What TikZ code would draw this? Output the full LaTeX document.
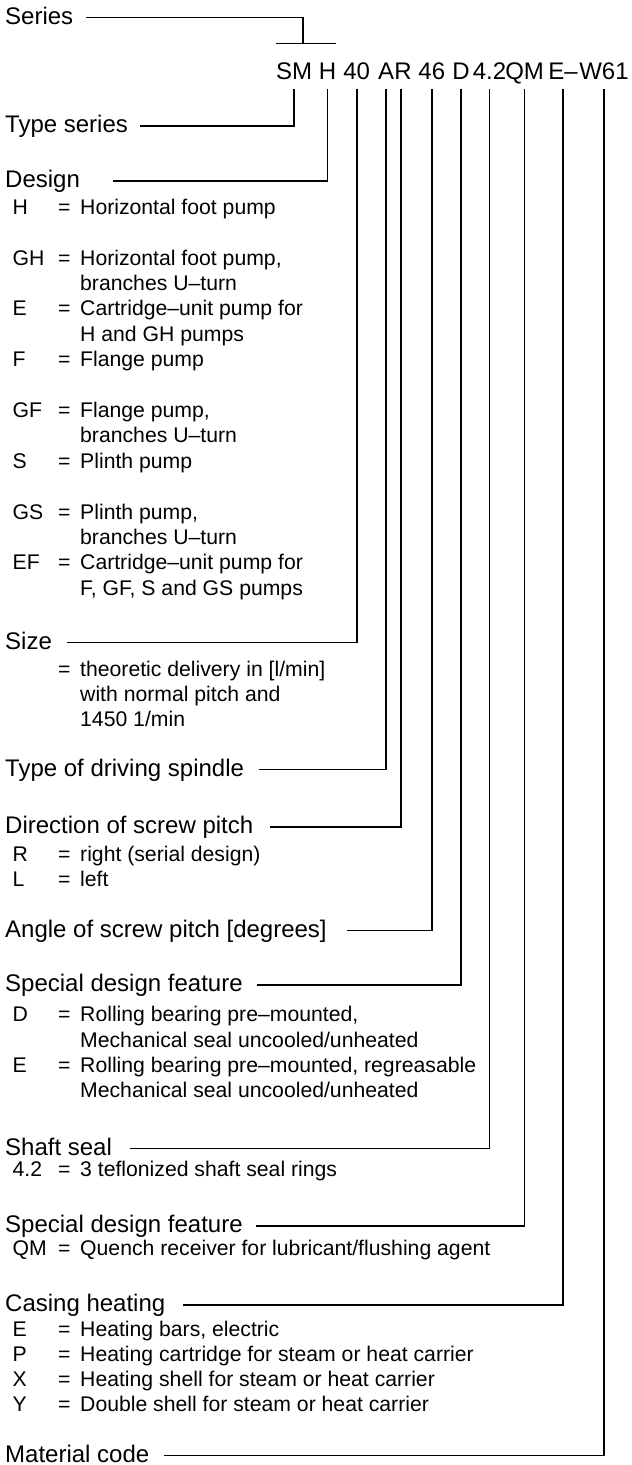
\documentclass[tikz,border=0pt]{standalone}
\usepackage{fontspec}
\setmainfont{Liberation Sans}
\begin{document}
\begin{tikzpicture}[x=1pt,y=-1pt,
  lbl/.style={anchor=base west,inner sep=0pt,text height=17pt,text depth=3.6pt,font=\fontsize{24}{28}\selectfont},
  code/.style={anchor=base,inner xsep=0pt,inner ysep=9.3pt,text height=17pt,text depth=0pt,font=\fontsize{24}{28}\selectfont},
  key/.style={anchor=base west,inner sep=0pt,font=\fontsize{21.2}{25.4}\selectfont},
  desc/.style={key},
  lead/.style={line width=1.6pt}]
\useasboundingbox (0,0) rectangle (632,1465);

% Text Node
\draw (294,79) node (cSM) [code] {SM};
\draw (327.5,79) node (cH) [code] {H};
\draw (356.7,79) node (c40) [code] {40};
\draw (386,79) node (cA) [code] {A};
\draw (403,79) node (cR) [code] {R};
\draw (431.8,79) node (c46) [code] {46};
\draw (461,79) node (cD) [code] {D};
\draw (489.5,79) node (c42) [code] {4.2};
\draw (524.6,79) node (cQM) [code] {QM};
\draw (563,79) node (cE) [code] {E–};
\draw (604,79) node (cW) [code] {W61};

% Text Node
\draw (5,24) node (series) [lbl] {Series};
\draw (5,132.4) node (typeser) [lbl] {Type series};
\draw (5,187.7) node (design) [lbl] {Design};
\draw (5,649) node (size) [lbl] {Size};
\draw (5,776) node (spindle) [lbl] {Type of driving spindle};
\draw (5,833.7) node (direction) [lbl] {Direction of screw pitch};
\draw (5,937) node (angle) [lbl] {Angle of screw pitch [degrees]};
\draw (5,991.5) node (special) [lbl] {Special design feature};
\draw (5,1155.2) node (shaft) [lbl] {Shaft seal};
\draw (5,1232.4) node (quench) [lbl] {Special design feature};
\draw (5,1311.7) node (casing) [lbl] {Casing heating};
\draw (5,1462) node (material) [lbl] {Material code};

% Text Node
\draw (12.5,214.3) node (kH) [key] {H} (58,214.3) node (eH) [key] {=} (80,214.3) node (tH) [desc] {Horizontal foot pump};
\draw (12.5,265.1) node (kGH) [key] {GH} (58,265.1) node (eGH) [key] {=} (80,265.1) node (tGH) [desc] {\vtop{\hbox{Horizontal foot pump,}\hbox{branches U–turn}}};
\draw (12.5,315.9) node (kE) [key] {E} (58,315.9) node (eE) [key] {=} (80,315.9) node (tE) [desc] {\vtop{\hbox{Cartridge–unit pump for}\hbox{H and GH pumps}}};
\draw (12.5,366.7) node (kF) [key] {F} (58,366.7) node (eF) [key] {=} (80,366.7) node (tF) [desc] {Flange pump};
\draw (12.5,417.5) node (kGF) [key] {GF} (58,417.5) node (eGF) [key] {=} (80,417.5) node (tGF) [desc] {\vtop{\hbox{Flange pump,}\hbox{branches U–turn}}};
\draw (12.5,468.3) node (kS) [key] {S} (58,468.3) node (eS) [key] {=} (80,468.3) node (tS) [desc] {Plinth pump};
\draw (12.5,519.1) node (kGS) [key] {GS} (58,519.1) node (eGS) [key] {=} (80,519.1) node (tGS) [desc] {\vtop{\hbox{Plinth pump,}\hbox{branches U–turn}}};
\draw (12.5,569.9) node (kEF) [key] {EF} (58,569.9) node (eEF) [key] {=} (80,569.9) node (tEF) [desc] {\vtop{\hbox{Cartridge–unit pump for}\hbox{F, GF, S and GS pumps}}};
% Text Node
\draw (58,676.7) node (eSize) [key] {=} (80,676.7) node (tSize) [desc] {\vtop{\baselineskip=25pt\hbox{theoretic delivery in [l/min]}\hbox{with normal pitch and}\hbox{1450 1/min}}};
% Text Node
\draw (12.5,861) node (kR) [key] {R} (58,861) node (eR) [key] {=} (80,861) node (tR) [desc] {right (serial design)};
\draw (12.5,886) node (kL) [key] {L} (58,886) node (eL) [key] {=} (80,886) node (tL) [desc] {left};
% Text Node
\draw (12.5,1021.7) node (kD) [key] {D} (58,1021.7) node (eD) [key] {=} (80,1021.7) node (tD) [desc] {\vtop{\hbox{Rolling bearing pre–mounted,}\hbox{Mechanical seal uncooled/unheated}}};
\draw (12.5,1072.3) node (kE2) [key] {E} (58,1072.3) node (eE2) [key] {=} (80,1072.3) node (tE2) [desc] {\vtop{\hbox{Rolling bearing pre–mounted, regreasable}\hbox{Mechanical seal uncooled/unheated}}};
% Text Node
\draw (12.5,1176.7) node (k42) [key] {4.2} (58,1176.7) node (e42) [key] {=} (80,1176.7) node (t42) [desc] {3 teflonized shaft seal rings};
% Text Node
\draw (12.5,1255) node (kQM) [key] {QM} (58,1255) node (eQM) [key] {=} (80,1255) node (tQM) [desc] {Quench receiver for lubricant/flushing agent};
% Text Node
\draw (12.5,1336.7) node (kE3) [key] {E} (58,1336.7) node (eE3) [key] {=} (80,1336.7) node (tE3) [desc] {Heating bars, electric};
\draw (12.5,1361.7) node (kP) [key] {P} (58,1361.7) node (eP) [key] {=} (80,1361.7) node (tP) [desc] {Heating cartridge for steam or heat carrier};
\draw (12.5,1386.7) node (kX) [key] {X} (58,1386.7) node (eX) [key] {=} (80,1386.7) node (tX) [desc] {Heating shell for steam or heat carrier};
\draw (12.5,1411.7) node (kY) [key] {Y} (58,1411.7) node (eY) [key] {=} (80,1411.7) node (tY) [desc] {Double shell for steam or heat carrier};

%Straight Lines
\coordinate (tee) at (303.2,43.3);
\draw [lead] ([xshift=13pt]series.east) -| (tee);
\draw [lead] (cSM.west |- tee) -- (cH.east |- tee);
%Straight Lines
\draw [lead] ([xshift=12pt]typeser.east) -| (cSM.south);
\draw [lead] ([xshift=33pt]design.east) -| (cH.south);
\draw [lead] ([xshift=15pt]size.east) -| (c40.south);
\draw [lead] ([xshift=15pt]spindle.east) -| (cA.south);
\draw [lead] ([xshift=17pt]direction.east) -| ([xshift=-2.3pt]cR.south);
\draw [lead] ([xshift=20pt]angle.east) -| (c46.south);
\draw [lead] ([xshift=14.5pt]special.east) -| (cD.south);
\draw [lead] ([xshift=18pt]shaft.east) -| (c42.south);
\draw [lead] ([xshift=13.5pt]quench.east) -| (cQM.south);
\draw [lead] ([xshift=17.5pt]casing.east) -| (cE.south);
\draw [lead] ([xshift=15pt]material.east) -| (cW.south);

\end{tikzpicture}
\end{document}
